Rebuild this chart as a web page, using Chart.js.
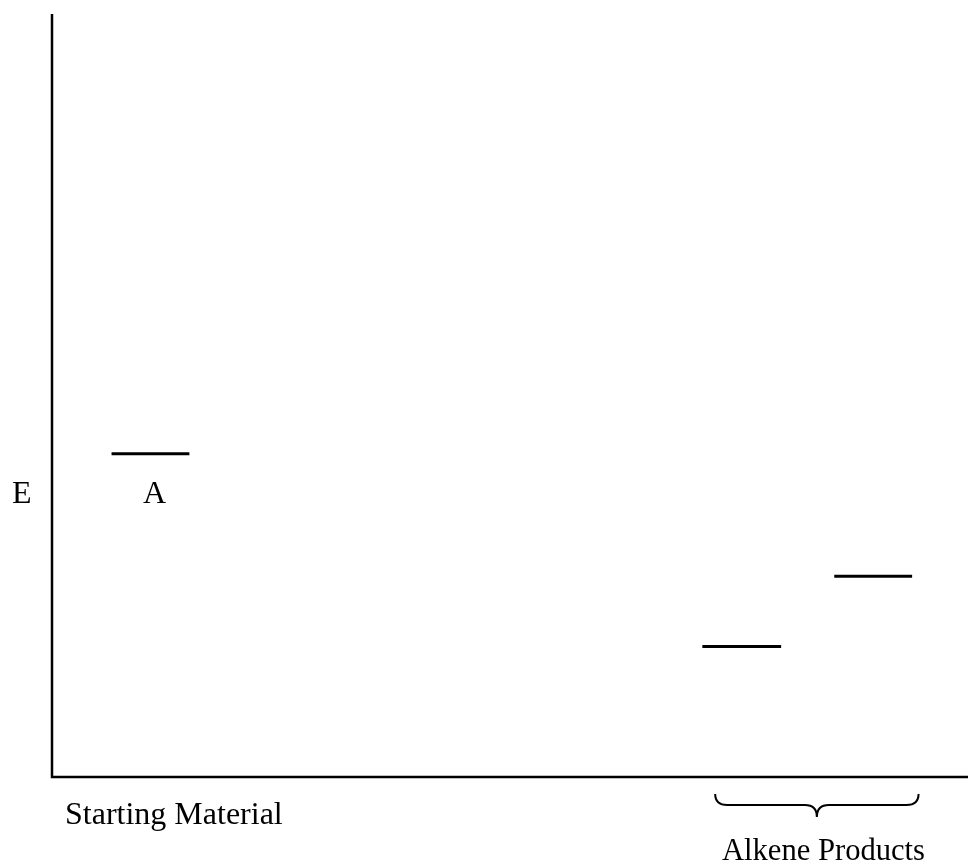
<!DOCTYPE html>
<html>
<head>
<meta charset="utf-8">
<script src="https://cdn.jsdelivr.net/npm/chart.js"></script>
<style>
  html, body { margin: 0; padding: 0; background: #fff; }
  #wrap { width: 968px; height: 865px; position: relative; }
</style>
</head>
<body>
<div id="wrap"><canvas id="chart"></canvas></div>
<script>
// Energy levels (x range in % of axis width, y = energy in % of axis height)
const levelNames = ["A", "", ""];
const levelStart = [6.5, 71.0, 85.4];
const levelEnd = [15.0, 79.6, 93.9];
const levelEnergy = [42.3, 17.0, 26.2];

// Axis / group labels
const yLabel = "E";
const groupLabels = ["Starting Material", "Alkene Products"];
const braceRange = [72.4, 94.6]; // spans the product levels

const FONT = "32px 'Liberation Serif', 'Times New Roman', serif";

const datasets = levelEnergy.map((e, i) => ({
  label: levelNames[i] || "level " + i,
  data: [{ x: levelStart[i], y: e }, { x: levelEnd[i], y: e }],
  borderColor: "#000",
  borderWidth: 3,
  pointRadius: 0,
  fill: false,
}));

// draws axes lines, text labels and the brace
const diagramPlugin = {
  id: "diagram",
  afterDraw(chart) {
    const ctx = chart.ctx;
    const area = chart.chartArea;
    const xs = chart.scales.x;
    const ys = chart.scales.y;
    ctx.save();
    ctx.strokeStyle = "#000";
    ctx.lineWidth = 2.5;
    ctx.beginPath();
    ctx.moveTo(area.left, area.top);
    ctx.lineTo(area.left, area.bottom + 1);
    ctx.lineTo(area.right, area.bottom + 1);
    ctx.stroke();

    ctx.fillStyle = "#000";
    ctx.font = FONT;
    ctx.textBaseline = "alphabetic";

    // level names under each level
    ctx.textAlign = "center";
    levelNames.forEach((n, i) => {
      if (!n) return;
      const cx = (xs.getPixelForValue(levelStart[i]) + xs.getPixelForValue(levelEnd[i])) / 2;
      ctx.fillText(n, cx + 4, ys.getPixelForValue(levelEnergy[i]) + 49);
    });

    // y label
    ctx.textAlign = "left";
    ctx.fillText(yLabel, 12, ys.getPixelForValue(levelEnergy[0]) + 49);

    // group labels
    ctx.fillText(groupLabels[0], 65, area.bottom + 48);
    ctx.fillText(groupLabels[1], 722, area.bottom + 84, 203);

    // brace
    const x1 = xs.getPixelForValue(braceRange[0]);
    const x2 = xs.getPixelForValue(braceRange[1]);
    const xm = (x1 + x2) / 2;
    const top = area.bottom + 18;
    const mid = area.bottom + 29;
    const bot = area.bottom + 41;
    const r = 12;
    ctx.lineWidth = 2;
    ctx.beginPath();
    ctx.moveTo(x1, top);
    ctx.quadraticCurveTo(x1, mid, x1 + r, mid);
    ctx.lineTo(xm - r, mid);
    ctx.quadraticCurveTo(xm, mid, xm, bot);
    ctx.moveTo(xm, bot);
    ctx.quadraticCurveTo(xm, mid, xm + r, mid);
    ctx.lineTo(x2 - r, mid);
    ctx.quadraticCurveTo(x2, mid, x2, top);
    ctx.stroke();
    ctx.restore();
  },
};

new Chart(document.getElementById("chart").getContext("2d"), {
  type: "line",
  data: { datasets: datasets },
  options: {
    responsive: true,
    maintainAspectRatio: false,
    animation: false,
    layout: { padding: { left: 52, top: 14, right: 0, bottom: 89 } },
    scales: {
      x: { type: "linear", min: 0, max: 100, display: false },
      y: { type: "linear", min: 0, max: 100, display: false },
    },
    plugins: {
      legend: { display: false },
      tooltip: { enabled: false },
    },
  },
  plugins: [diagramPlugin],
});
</script>
</body>
</html>
